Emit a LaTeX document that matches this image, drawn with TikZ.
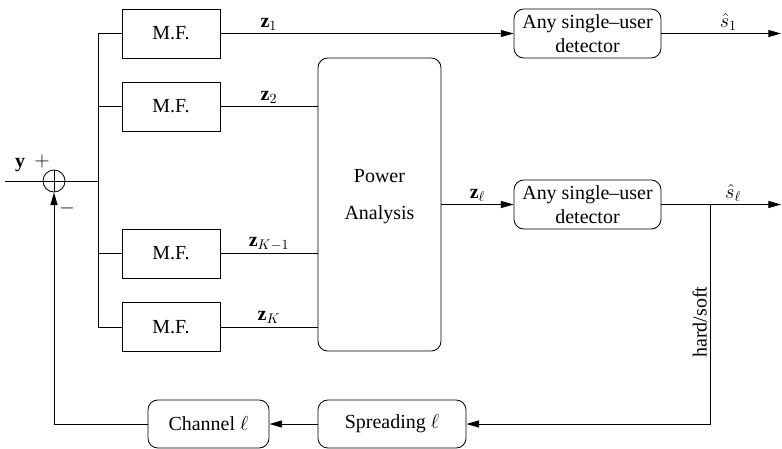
\documentclass[tikz,border=0pt]{standalone}
\usepackage{fontspec}
\setmainfont{Liberation Serif}
\usetikzlibrary{arrows.meta,calc}

\begin{document}
\fontsize{14.2}{17.5}\selectfont
\begin{tikzpicture}[
  x=0.025cm,y=-0.025cm,
  >={Triangle[length=9pt,width=5pt]},line width=0.6pt,
  mfbox/.style={draw,minimum width=2.45cm,minimum height=1.225cm,inner sep=0pt},
  rbox/.style={draw,rounded corners=7pt,align=center,inner sep=0pt,minimum height=1.225cm},
  lab/.style={inner sep=2pt}
]
\useasboundingbox (0,0) rectangle (782,448);
\node[draw,circle,minimum size=0.55cm,inner sep=0pt] (sum) at (54,181) {};
\draw (sum.north) -- (sum.south) (sum.west) -- (sum.east);
\node[mfbox] (mf1) at (171,33.5) {M.F.};
\node[mfbox] (mf2) at (171,106.5) {M.F.};
\node[mfbox] (mf3) at (171,253.5) {M.F.};
\node[mfbox] (mf4) at (171,327) {M.F.};
\node[rbox,minimum width=3.075cm,minimum height=7.325cm] (pa) at (379.5,204.5) {Power\\[9pt]Analysis\\[-3pt]\mbox{}};
\node[rbox,minimum width=3.675cm] (det1) at (587.5,33.5) {Any single--user\\detector};
\node[rbox,minimum width=3.675cm] (det2) at (587.5,204.5) {Any single--user\\detector};
\node[rbox,minimum width=3.7cm,minimum height=1.2cm] (spread) at (392,424) {Spreading $\ell$};
\node[rbox,minimum width=3.025cm,minimum height=1.2cm] (chan) at (208.5,424) {Channel $\ell$};
\coordinate (in) at (5,181);
\coordinate (bus) at (98,181);
\coordinate (out1) at (781,33.5);
\coordinate (out2) at (781,204.5);
\coordinate (tap) at (710,204.5);
\coordinate (corner) at (710,424);
% input and adder
\draw (in) -- (sum.west);
\draw (sum.east) -- (bus);
\draw (mf1.west -| bus) -- (mf4.west -| bus);
\foreach \i in {1,...,4} \draw (mf\i.west -| bus) -- (mf\i.west);
\node[lab] at (20,165) {$\mathbf{y}$};
\node[lab] at (42,161) {$+$};
\node[lab] at (67,208) {$-$};
% matched filter outputs
\draw[->] (mf1.east) -- node[lab,above,pos=0.165] {$\mathbf{z}_1$} (det1.west);
\draw (mf2.east) -- node[lab,above] {$\mathbf{z}_2$} (mf2.east -| pa.west);
\draw (mf3.east) -- node[lab,above] {$\mathbf{z}_{K-1}$} (mf3.east -| pa.west);
\draw (mf4.east) -- node[lab,above] {$\mathbf{z}_K$} (mf4.east -| pa.west);
\draw[->] (pa.east |- det2) -- node[lab,above] {$\mathbf{z}_\ell$} (det2.west);
% detector outputs
\draw[->] (det1.east) -- node[lab,above,pos=0.56] {$\hat s_1$} (out1);
\draw[->] (det2.east) -- node[lab,above,pos=0.6] {$\hat s_\ell$} (out2);
% feedback
\draw[->] (tap) -- node[lab,rotate=90,anchor=south,pos=0.536] {hard/soft} (corner) -- (spread.east);
\draw[->] (spread.west) -- (chan.east);
\draw[->] (chan.west) -- (sum |- chan) -- (sum.south);
\end{tikzpicture}
\end{document}
